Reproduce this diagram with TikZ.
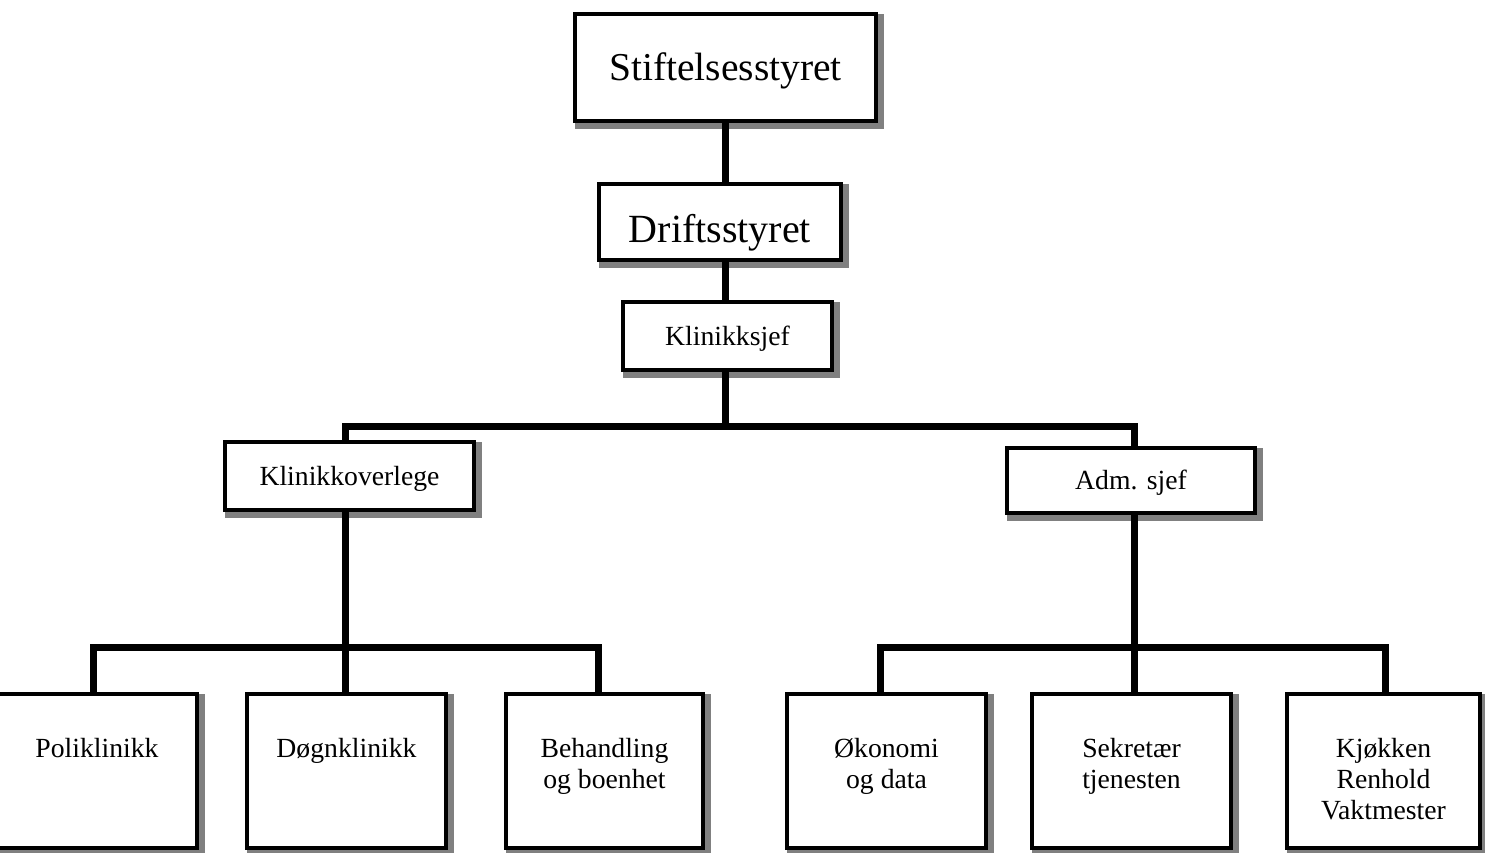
\documentclass[tikz,border=0pt]{standalone}
\usepackage{fontspec}
\setmainfont{Liberation Serif}
\usetikzlibrary{shadows}
\newcommand\leaftext[2]{\parbox[c][154pt][t]{#1}{\centering\vspace*{44pt}#2}}
\tikzset{
  box/.style={draw=black, line width=4pt, fill=white, inner sep=0pt,
    drop shadow={shadow xshift=4pt, shadow yshift=-4pt, fill=gray, draw=gray, line width=8pt, opacity=1}},
  big/.style={font=\fontsize{39.5}{46}\selectfont, text height=30pt, text depth=4.2pt},
  mid/.style={font=\fontsize{27.7}{31}\selectfont, text height=22pt, text depth=3.7pt},
  leaf/.style={box, font=\fontsize{27.7}{31}\selectfont},
  conn/.style={line width=7pt, line join=miter},
}
\begin{document}
\begin{tikzpicture}[x=1pt,y=-1pt]
\useasboundingbox (0,0) rectangle (1485,853);
% boxes
\node[box, big, minimum width=301pt, minimum height=107pt] (stift) at (725.5,67.5) {Stiftelsesstyret};
\node[box, font=\fontsize{40}{46}\selectfont, text height=45pt, text depth=3.6pt, minimum width=242pt, minimum height=76pt] (drift) at (720,222) {Driftsstyret};
\node[box, mid, minimum width=209pt, minimum height=68pt] (klsj) at (727.5,336) {Klinikksjef};
\node[box, mid, minimum width=249pt, minimum height=68pt] (klov) at (349.5,476) {Klinikkoverlege};
\node[box, mid, minimum width=248pt, minimum height=65pt] (adm) at (1131,480.5) {Adm. sjef};
\node[leaf] (poli) at (97,771) {\leaftext{200pt}{Poliklinikk}};
\node[leaf] (dogn) at (346.5,771) {\leaftext{199pt}{Døgnklinikk}};
\node[leaf] (beh) at (604.5,771) {\leaftext{197pt}{Behandling\\og boenhet}};
\node[leaf] (oko) at (886.5,771) {\leaftext{199pt}{Økonomi\\og data}};
\node[leaf] (sek) at (1131.5,771) {\leaftext{199pt}{Sekretær\\tjenesten}};
\node[leaf] (kjo) at (1383.5,771) {\leaftext{193pt}{Kjøkken\\Renhold\\Vaktmester}};
% junctions
\coordinate (spine) at (725,426);
\coordinate (lbus) at (345,647.5);
\coordinate (rbus) at (1134,647.5);
% connectors
\draw[conn] (stift.south -| spine) -- (drift.north -| spine);
\draw[conn] (drift.south -| spine) -- (klsj.north -| spine);
\draw[conn] (klsj.south -| spine) -- (spine);
\draw[conn] (klov.north -| lbus) |- (spine) -| (adm.north -| rbus);
\draw[conn] (klov.south -| lbus) -- (dogn.north -| lbus);
\draw[conn] ([xshift=-4pt]poli.north) |- (lbus) -| ([xshift=-6.5pt]beh.north);
\draw[conn] (adm.south -| rbus) -- (sek.north -| rbus);
\draw[conn] ([xshift=-6.5pt]oko.north) |- (rbus) -| ([xshift=1.5pt]kjo.north);
\end{tikzpicture}
\end{document}
